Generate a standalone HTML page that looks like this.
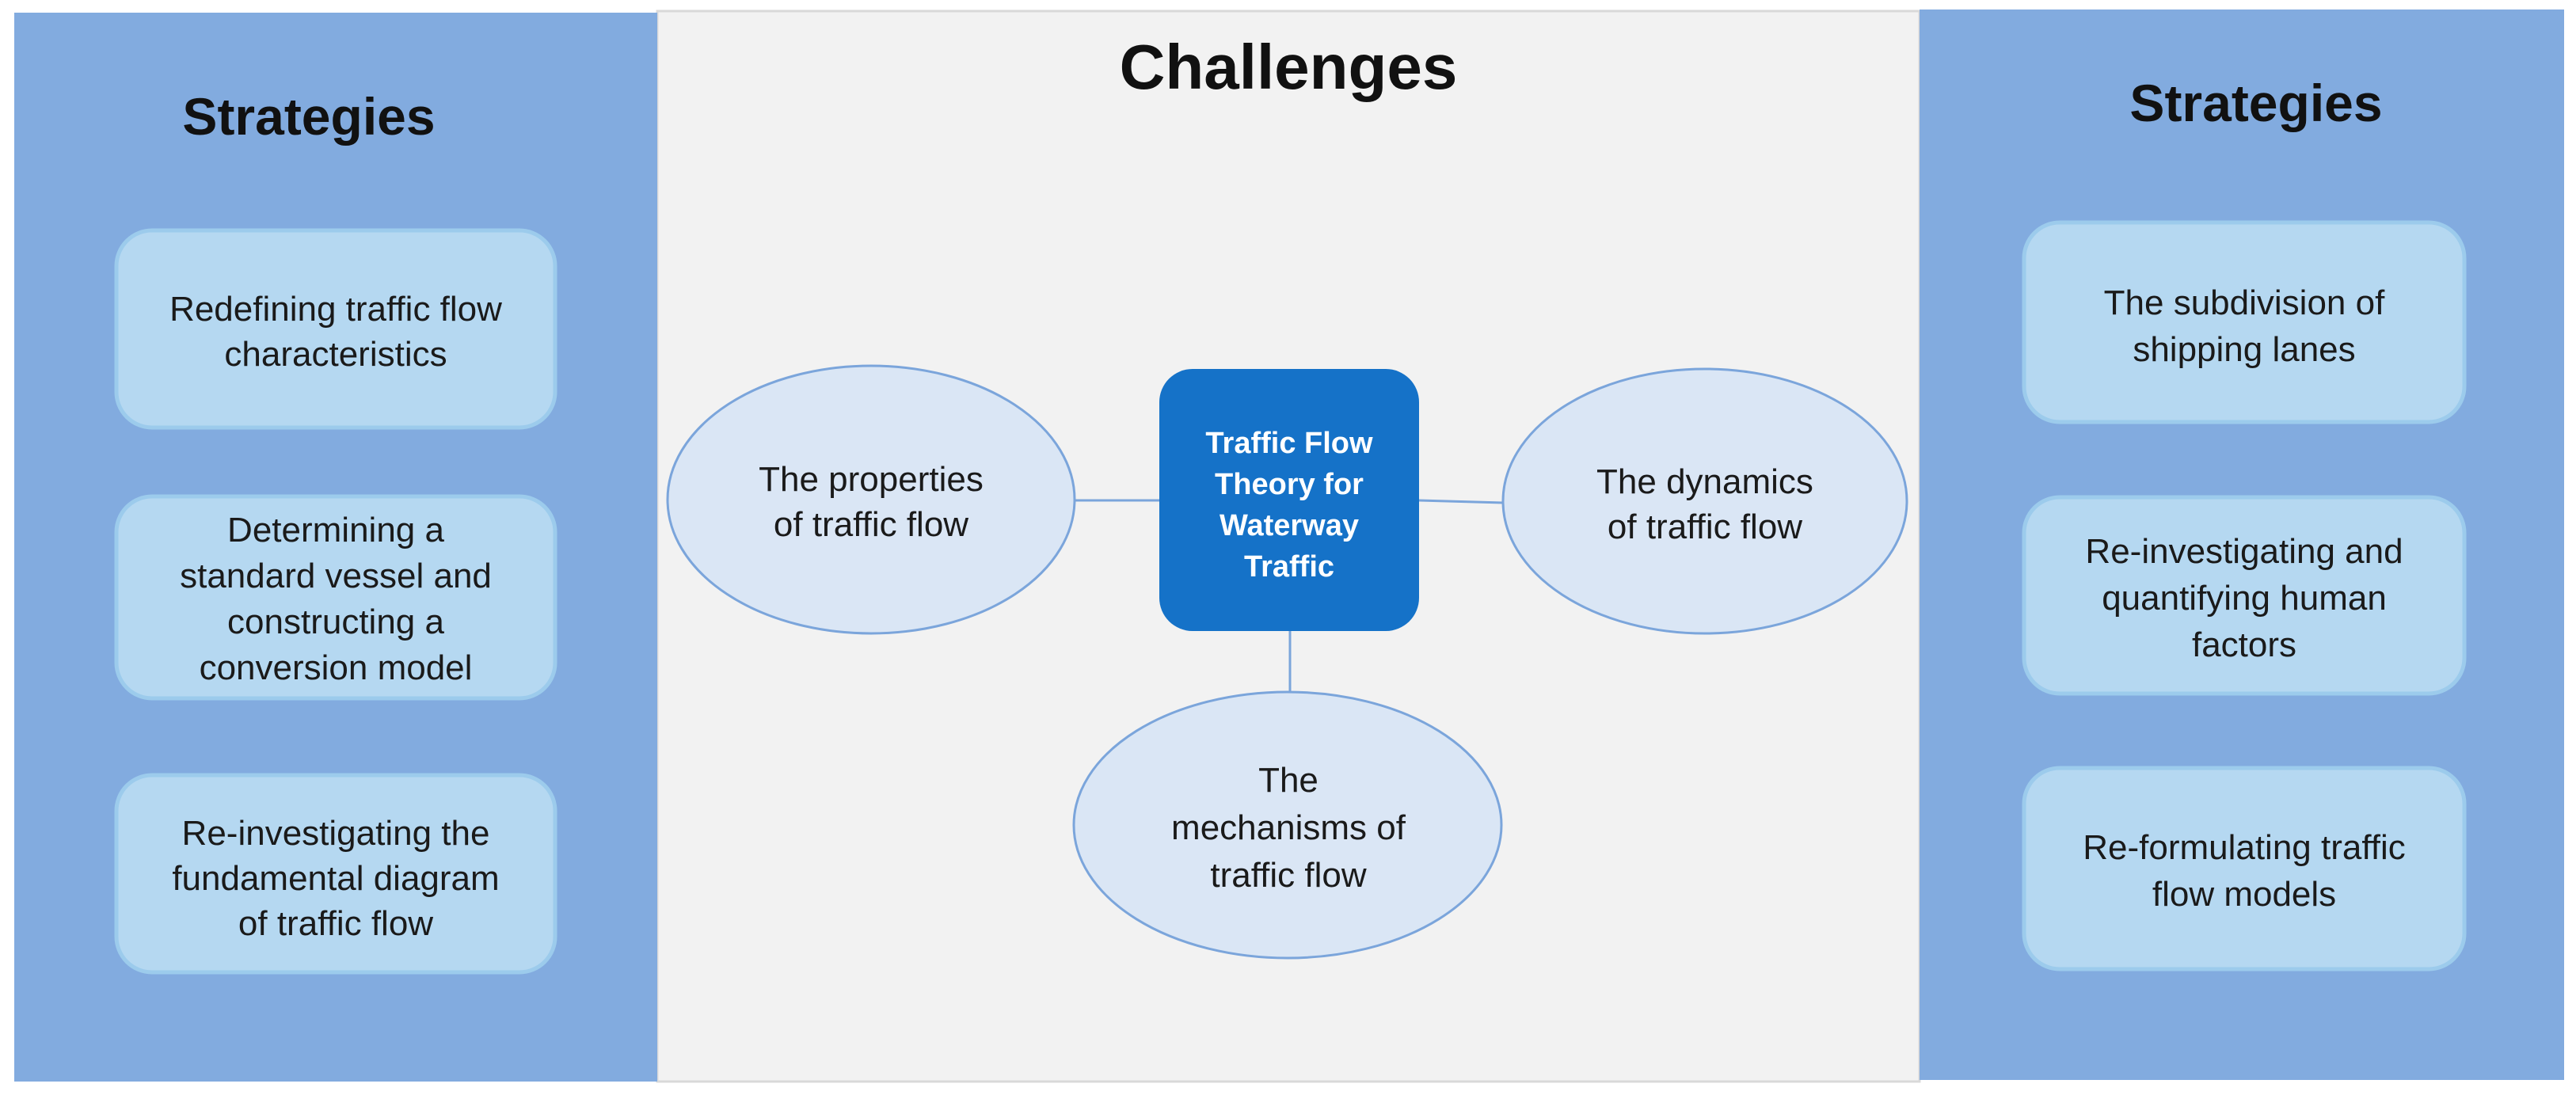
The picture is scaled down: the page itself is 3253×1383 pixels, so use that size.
<!DOCTYPE html>
<html><head><meta charset="utf-8"><style>
html,body{margin:0;padding:0;background:#fff;}
svg{display:block;}
text{font-family:"Liberation Sans",sans-serif;}
</style></head><body>
<svg width="3253" height="1383" viewBox="0 0 3253 1383" xmlns="http://www.w3.org/2000/svg">
<rect x="0" y="0" width="3253" height="1383" fill="#ffffff"/>
<rect x="830" y="14" width="1594" height="1352" fill="#f2f2f2" stroke="#d9d9d9" stroke-width="3"/>
<rect x="18" y="16" width="812" height="1350" fill="#82abdf"/>
<rect x="2424" y="12" width="814" height="1352" fill="#82abdf"/>

<text x="1627" y="112" font-size="80" font-weight="bold" text-anchor="middle" fill="#111">Challenges</text>
<text x="390" y="170" font-size="66" font-weight="bold" text-anchor="middle" fill="#111">Strategies</text>
<text x="2849" y="153" font-size="66" font-weight="bold" text-anchor="middle" fill="#111">Strategies</text>

<g fill="#b5d8f1" stroke="#9ccbec" stroke-width="5">
<rect x="147" y="291" width="554" height="249" rx="45"/>
<rect x="147" y="627" width="554" height="255" rx="45"/>
<rect x="147" y="979" width="554" height="249" rx="45"/>
<rect x="2556" y="281" width="556" height="252" rx="45"/>
<rect x="2556" y="628" width="556" height="248" rx="45"/>
<rect x="2556" y="970" width="556" height="254" rx="45"/>
</g>

<g font-size="44" text-anchor="middle" fill="#1a1a1a">
<text x="424" y="405">Redefining traffic flow</text>
<text x="424" y="462">characteristics</text>
<text x="424" y="684">Determining a</text>
<text x="424" y="742">standard vessel and</text>
<text x="424" y="800">constructing a</text>
<text x="424" y="858">conversion model</text>
<text x="424" y="1067">Re-investigating the</text>
<text x="424" y="1124">fundamental diagram</text>
<text x="424" y="1181">of traffic flow</text>
<text x="2834" y="397">The subdivision of</text>
<text x="2834" y="456">shipping lanes</text>
<text x="2834" y="711">Re-investigating and</text>
<text x="2834" y="770">quantifying human</text>
<text x="2834" y="829">factors</text>
<text x="2834" y="1085">Re-formulating traffic</text>
<text x="2834" y="1144">flow models</text>
</g>

<g stroke="#7ba5db" stroke-width="3">
<line x1="1356" y1="632" x2="1464" y2="632"/>
<line x1="1792" y1="632" x2="1898" y2="635"/>
<line x1="1629" y1="797" x2="1629" y2="874"/>
</g>
<g fill="#dae6f5" stroke="#7ba5db" stroke-width="3">
<ellipse cx="1100" cy="631" rx="257" ry="169"/>
<ellipse cx="2153" cy="633" rx="255" ry="167"/>
<ellipse cx="1626" cy="1042" rx="270" ry="168"/>
</g>
<rect x="1464" y="466" width="328" height="331" rx="42" fill="#1572c8"/>
<g font-size="38" font-weight="bold" text-anchor="middle" fill="#ffffff">
<text x="1628" y="572">Traffic Flow</text>
<text x="1628" y="624">Theory for</text>
<text x="1628" y="676">Waterway</text>
<text x="1628" y="728">Traffic</text>
</g>
<g font-size="44" text-anchor="middle" fill="#1a1a1a">
<text x="1100" y="620">The properties</text>
<text x="1100" y="677">of traffic flow</text>
<text x="2153" y="623">The dynamics</text>
<text x="2153" y="680">of traffic flow</text>
<text x="1627" y="1000">The</text>
<text x="1627" y="1060">mechanisms of</text>
<text x="1627" y="1120">traffic flow</text>
</g>
</svg>
</body></html>
